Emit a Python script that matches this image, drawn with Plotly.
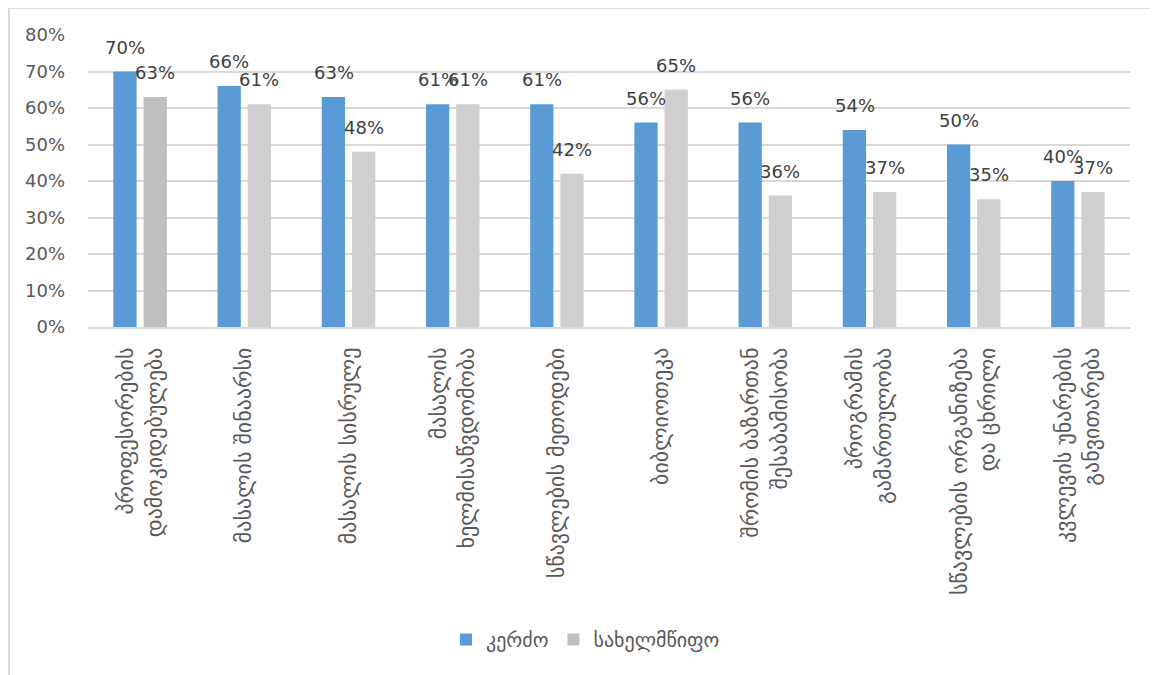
import plotly.graph_objects as go

categories = [
    "პროფესორების<br>დამოკიდებულება",
    "მასალის შინაარსი",
    "მასალის სისრულე",
    "მასალის<br>ხელმისაწვდომობა",
    "სწავლების მეთოდები",
    "ბიბლიოთეკა",
    "შრომის ბაზართან<br>შესაბამისობა",
    "პროგრამის<br>გამართულობა",
    "სწავლების ორგანიზება<br>და ცხრილი",
    "კვლევის უნარების<br>განვითარება",
]
private_vals = [70, 66, 63, 61, 61, 56, 56, 54, 50, 40]
state_vals = [63, 61, 48, 61, 42, 65, 36, 37, 35, 37]
series_names = ["კერძო", "სახელმწიფო"]
y_ticks = [0, 10, 20, 30, 40, 50, 60, 70, 80]

BLUE = "#5B9BD5"
GREY = "#D0CECE"
state_colors = ["#BFBFBF"] + [GREY] * (len(state_vals) - 1)
FONT = "DejaVu Sans"
TXT = "#595959"

W, H = 1150, 667
ML, MR, MT, MB = 80, 28, 27, 348
PW, PH = W - ML - MR, H - MT - MB

fig = go.Figure()
fig.add_trace(go.Bar(x=categories, y=private_vals, name=series_names[0],
                     marker=dict(color=BLUE, line=dict(width=0))))
fig.add_trace(go.Bar(x=categories, y=state_vals, name=series_names[1],
                     marker=dict(color=state_colors, line=dict(width=0))))

annotations = []
for vals, shift in ((private_vals, -15), (state_vals, 15)):
    for c, v in zip(categories, vals):
        annotations.append(dict(x=c, y=v, xref="x", yref="y", text=f"{v}%",
                                showarrow=False, xshift=shift, yshift=12,
                                yanchor="bottom",
                                font=dict(family=FONT, size=18, color="#404040")))

fig.update_layout(
    width=W, height=H,
    margin=dict(l=ML, r=MR, t=MT, b=MB, autoexpand=False),
    paper_bgcolor="white", plot_bgcolor="white",
    bargap=0.42, bargroupgap=0.23,
    font=dict(family=FONT, color=TXT),
    showlegend=True,
    legend=dict(orientation="h", x=(438 - ML) / PW, xanchor="left",
                y=-(612 - 319) / PH, yanchor="top",
                font=dict(family=FONT, size=20, color=TXT), itemwidth=30,
                traceorder="normal"),
    annotations=annotations,
    shapes=[
        dict(type="line", xref="paper", yref="paper",
             x0=-ML / PW, x1=1 + MR / PW, y0=1 + MT / PH, y1=1 + MT / PH,
             line=dict(color="#D9D9D9", width=1.5)),
        dict(type="line", xref="paper", yref="paper",
             x0=-ML / PW + 1 / PW, x1=-ML / PW + 1 / PW, y0=1 + MT / PH, y1=-MB / PH,
             line=dict(color="#D9D9D9", width=2)),
    ],
)
fig.update_yaxes(range=[0, 80], tickvals=y_ticks,
                 ticktext=[f"{t}%" for t in y_ticks],
                 showgrid=True, gridcolor="#D9D9D9", gridwidth=1.5,
                 zeroline=False, showline=False, ticks="", ticklabelstandoff=22,
                 tickfont=dict(family=FONT, size=18, color=TXT), automargin=False)
fig.update_xaxes(tickangle=-90, showline=True, linecolor="#D9D9D9", linewidth=1.5,
                 ticks="", tickfont=dict(family=FONT, size=22, color=TXT),
                 automargin=False, ticklabelstandoff=10)

fig.write_html("out.html")
